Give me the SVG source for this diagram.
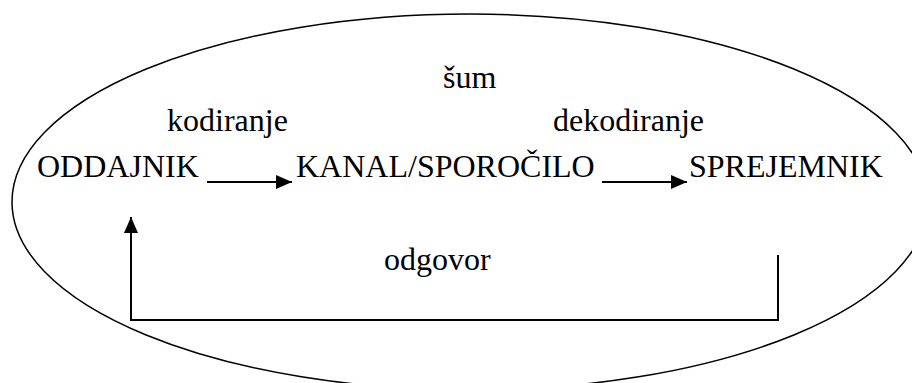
<svg xmlns="http://www.w3.org/2000/svg" width="912" height="383" viewBox="0 0 912 383">
  <style>
    text { font-family: "Liberation Serif", "Times New Roman", serif; font-size: 32px; fill: #000; }
    .edge { fill: none; stroke: #000; stroke-width: 2; }
  </style>
  <defs>
    <marker id="arrow" viewBox="0 0 16 14" refX="16" refY="7" markerWidth="16" markerHeight="14" markerUnits="userSpaceOnUse" orient="auto">
      <path d="M0,0 L16,7 L0,14 Z" fill="#000"/>
    </marker>
  </defs>
  <rect width="912" height="383" fill="#fff"/>

  <!-- surrounding context -->
  <ellipse id="context" cx="470" cy="202" rx="458" ry="188" fill="none" stroke="#000" stroke-width="1.5"/>

  <g id="noise"><text x="443" y="88">šum</text></g>
  <g id="sender"><text x="37" y="177">ODDAJNIK</text></g>
  <g id="channel"><text x="296" y="177">KANAL/SPOROČILO</text></g>
  <g id="receiver"><text x="689" y="177">SPREJEMNIK</text></g>

  <g id="connectors">
    <line class="edge" x1="207" y1="182" x2="292" y2="182" marker-end="url(#arrow)"/>
    <line class="edge" x1="602" y1="182" x2="687" y2="182" marker-end="url(#arrow)"/>
    <polyline class="edge" points="778,255 778,320 131,320 131,217" marker-end="url(#arrow)"/>
    <text x="167" y="131">kodiranje</text>
    <text x="553" y="131">dekodiranje</text>
    <text x="384" y="270">odgovor</text>
  </g>
</svg>
